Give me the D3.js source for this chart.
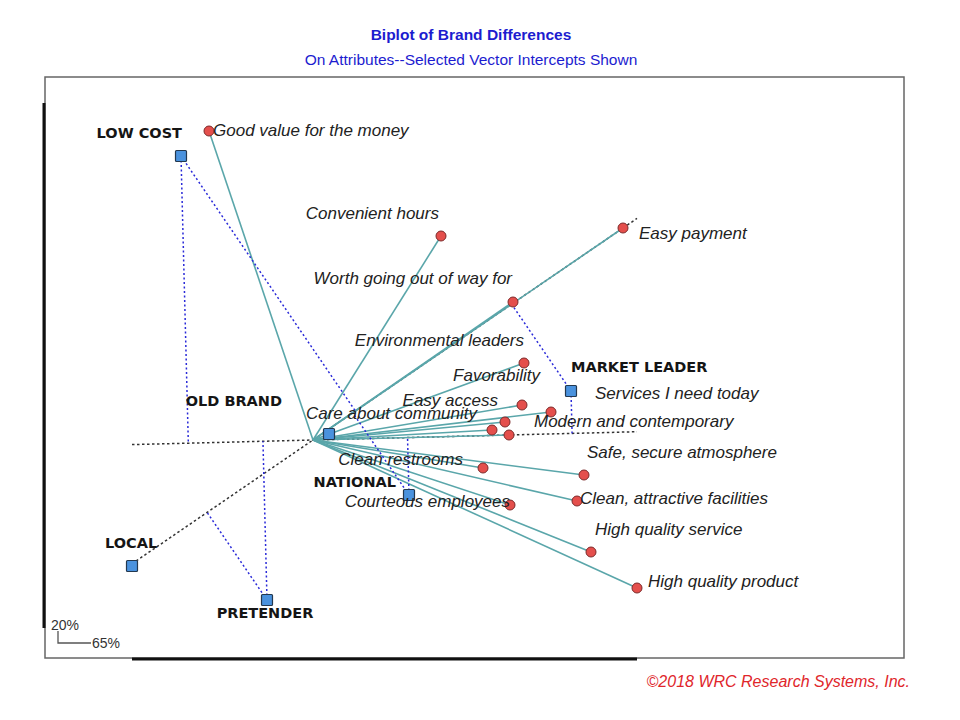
<!DOCTYPE html>
<html>
<head>
<meta charset="utf-8">
<script src="https://cdn.jsdelivr.net/npm/d3@7"></script>
<style>
  html, body { margin: 0; padding: 0; background: #fff; }
  svg { display: block; }
</style>
</head>
<body>
<svg id="chart" width="960" height="720"></svg>
<script>
// ---------------- DATA ----------------
const attributes = [
  "Good value for the money", "Convenient hours", "Easy payment",
  "Worth going out of way for", "Environmental leaders", "Favorability",
  "Services I need today", "Easy access", "Care about community",
  "Modern and contemporary", "Clean restrooms", "Safe, secure atmosphere",
  "Clean, attractive facilities", "Courteous employees",
  "High quality service", "High quality product"
];
const attrX = [-1.04, 1.28, 3.10, 2.00, 2.11, 2.09, 2.38, 1.92, 1.79, 1.96, 1.70, 2.71, 2.64, 1.97, 2.78, 3.24];
const attrY = [ 3.09, 2.04, 2.12, 1.38, 0.77, 0.35, 0.28, 0.18, 0.10, 0.05, -0.28, -0.35, -0.61, -0.65, -1.12, -1.48];

const brands = ["LOW COST", "OLD BRAND", "MARKET LEADER", "NATIONAL", "LOCAL", "PRETENDER"];
const brandX = [-1.32, 0.16, 2.58, 0.96, -1.81, -0.46];
const brandY = [ 2.84, 0.06, 0.49, -0.55, -1.26, -1.60];

const selectedVectors = ["Easy payment", "Modern and contemporary"];
const projectedBrands = ["LOW COST", "MARKET LEADER", "NATIONAL", "PRETENDER"];

const titleText = "Biplot of Brand Differences";
const subtitleText = "On Attributes--Selected Vector Intercepts Shown";
const copyrightText = "\u00A92018 WRC Research Systems, Inc.";
const scaleBarLabels = ["20%", "65%"];
const scaleBarLen = [0.12, 0.33]; // vertical, horizontal (chart units)
const yRangePad = 0.28;

// ---------------- LAYOUT ----------------
// label offsets in px [dx, dy, anchor]
const attrLabelLayout = [
  [4, 5, "start"], [-2, -17, "end"], [16, 11, "start"],
  [-1, -18, "end"], [0, -17, "end"], [18, -24, "end"],
  [44, -13, "start"], [-7, -16, "end"], [-15, -11, "end"],
  [25, -8, "start"], [-20, -3, "end"], [3, -17, "start"],
  [3, 3, "start"], [0, 2, "end"], [4, -17, "start"], [11, -1, "start"]
];
const brandLabelLayout = [
  [1, -18, "end"], [-47, -28, "end"], [0, -19, "start"],
  [-13, -8, "end"], [-27, -18, "start"], [-2, 18, "middle"]
];

const frame = {left: 45, right: 904, top: 77, bottom: 658};
const svg = d3.select("#chart");

const x = d3.scaleLinear().domain([-2.68, 5.91]).range([frame.left, frame.right]);
const y = d3.scaleLinear().domain([-2.18, 3.63]).range([frame.bottom, frame.top]);

const attrs = attributes.map((n, i) => ({name: n, x: attrX[i], y: attrY[i], lay: attrLabelLayout[i]}));
const brs = brands.map((n, i) => ({name: n, x: brandX[i], y: brandY[i], lay: brandLabelLayout[i]}));

const allX = attrX.concat(brandX), allY = attrY.concat(brandY);
const xExt = d3.extent(allX), yExt = d3.extent(allY);

const TEAL = "#5aa6aa", BLUE_DOT = "#2a2ad8", BLACK_DOT = "#333";

// Title
svg.append("text").attr("x", 471).attr("y", 40).attr("text-anchor", "middle")
  .attr("font-family", "Liberation Sans, Arial, sans-serif").attr("font-weight", "bold")
  .attr("font-size", 15.5).attr("fill", "#1c1ccf").text(titleText);
svg.append("text").attr("x", 471).attr("y", 65).attr("text-anchor", "middle")
  .attr("font-family", "Liberation Sans, Arial, sans-serif")
  .attr("font-size", 15.5).attr("fill", "#1c1ccf").text(subtitleText);

// Frame
svg.append("rect").attr("x", frame.left).attr("y", frame.top)
  .attr("width", frame.right - frame.left).attr("height", frame.bottom - frame.top)
  .attr("fill", "none").attr("stroke", "#666").attr("stroke-width", 1.5);
// range bars
svg.append("line").attr("x1", frame.left - 1).attr("x2", frame.left - 1)
  .attr("y1", y(yExt[1] + yRangePad)).attr("y2", y(yExt[0] - yRangePad))
  .attr("stroke", "#111").attr("stroke-width", 3);
svg.append("line").attr("y1", frame.bottom + 1).attr("y2", frame.bottom + 1)
  .attr("x1", x(xExt[0])).attr("x2", x(xExt[1]))
  .attr("stroke", "#111").attr("stroke-width", 3);

const g = svg.append("g");

// Selected vector axes (black dotted), spanning the x extent of the data
selectedVectors.forEach(name => {
  const a = attrs.find(d => d.name === name);
  const s = a.y / a.x;
  g.append("line")
    .attr("x1", x(xExt[0])).attr("y1", y(xExt[0] * s))
    .attr("x2", x(xExt[1])).attr("y2", y(xExt[1] * s))
    .attr("stroke", BLACK_DOT).attr("stroke-width", 1.5)
    .attr("stroke-dasharray", "2.5,2.5");
});

// Attribute vectors
g.selectAll("line.vec").data(attrs).join("line").attr("class", "vec")
  .attr("x1", x(0)).attr("y1", y(0))
  .attr("x2", d => x(d.x)).attr("y2", d => y(d.y))
  .attr("stroke", TEAL).attr("stroke-width", 1.6);

// Projections of brands onto selected vectors (blue dotted)
selectedVectors.forEach(name => {
  const a = attrs.find(d => d.name === name);
  const aa = a.x * a.x + a.y * a.y;
  projectedBrands.forEach(bn => {
    const b = brs.find(d => d.name === bn);
    const t = (b.x * a.x + b.y * a.y) / aa;
    g.append("line")
      .attr("x1", x(b.x)).attr("y1", y(b.y))
      .attr("x2", x(t * a.x)).attr("y2", y(t * a.y))
      .attr("stroke", BLUE_DOT).attr("stroke-width", 1.5)
      .attr("stroke-dasharray", "2,2.5");
  });
});

// Attribute points
g.selectAll("circle.pt").data(attrs).join("circle").attr("class", "pt")
  .attr("cx", d => x(d.x)).attr("cy", d => y(d.y)).attr("r", 5)
  .attr("fill", "#e44f4c").attr("stroke", "#7d2a2a").attr("stroke-width", 1);

// Brand squares
g.selectAll("rect.br").data(brs).join("rect").attr("class", "br")
  .attr("x", d => x(d.x) - 5.5).attr("y", d => y(d.y) - 5.5)
  .attr("width", 11).attr("height", 11).attr("rx", 1)
  .attr("fill", "#4a92de").attr("stroke", "#23384f").attr("stroke-width", 1.2);

// Attribute labels
g.selectAll("text.al").data(attrs).join("text").attr("class", "al")
  .attr("x", d => x(d.x) + d.lay[0]).attr("y", d => y(d.y) + d.lay[1])
  .attr("text-anchor", d => d.lay[2])
  .attr("font-family", "Liberation Sans, Arial, sans-serif")
  .attr("font-style", "italic").attr("font-size", 17).attr("fill", "#222")
  .text(d => d.name);

// Brand labels
g.selectAll("text.bl").data(brs).join("text").attr("class", "bl")
  .attr("x", d => x(d.x) + d.lay[0]).attr("y", d => y(d.y) + d.lay[1])
  .attr("text-anchor", d => d.lay[2])
  .attr("font-family", "DejaVu Sans, sans-serif").attr("font-weight", "bold")
  .attr("font-size", 14.5).attr("fill", "#151515")
  .text(d => d.name);

// Scale bar
const sbX = 58, sbY = 643;
const vLen = y(0) - y(scaleBarLen[0]);
const hLen = x(scaleBarLen[1]) - x(0);
svg.append("path")
  .attr("d", `M${sbX},${sbY - vLen}V${sbY}H${sbX + hLen}`)
  .attr("fill", "none").attr("stroke", "#555").attr("stroke-width", 1.3);
svg.append("text").attr("x", sbX - 7).attr("y", sbY - vLen - 1)
  .attr("font-family", "Liberation Sans, Arial, sans-serif").attr("font-size", 14)
  .attr("fill", "#333").text(scaleBarLabels[0]);
svg.append("text").attr("x", sbX + hLen + 1).attr("y", sbY + 5)
  .attr("font-family", "Liberation Sans, Arial, sans-serif").attr("font-size", 14)
  .attr("fill", "#333").text(scaleBarLabels[1]);

// Copyright
svg.append("text").attr("x", 910).attr("y", 687).attr("text-anchor", "end")
  .attr("font-family", "Liberation Sans, Arial, sans-serif").attr("font-style", "italic")
  .attr("font-size", 16).attr("fill", "#e0262b").text(copyrightText);
</script>
</body>
</html>
